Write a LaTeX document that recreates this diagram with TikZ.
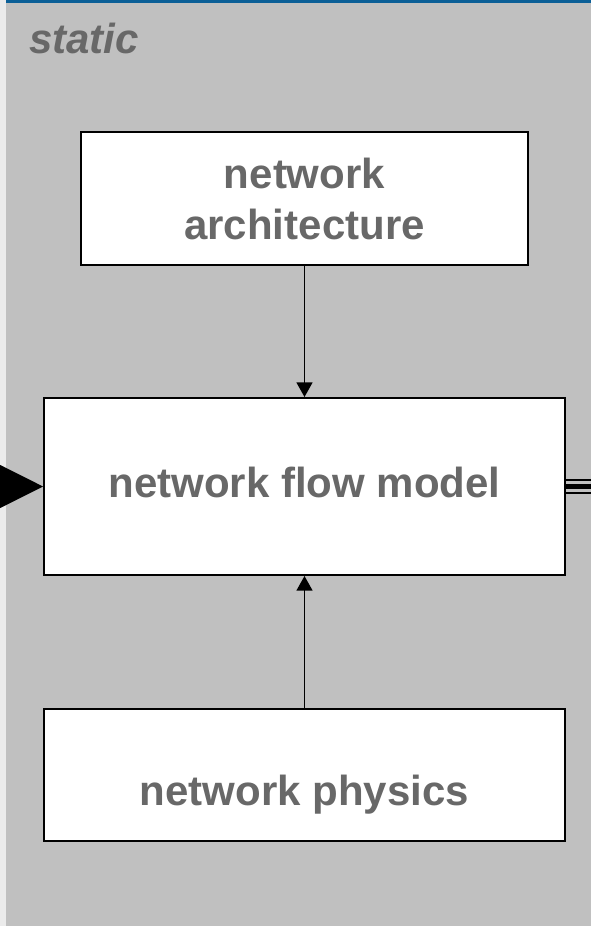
\documentclass[tikz,border=0pt]{standalone}
\usepackage{fontspec}
\setmainfont{Liberation Sans}
\usetikzlibrary{arrows.meta,positioning}
\definecolor{panel}{HTML}{C0C0C0}
\definecolor{strip}{HTML}{EBEBEB}
\definecolor{topbar}{HTML}{0B5F97}
\definecolor{label}{HTML}{686868}

\begin{document}
\begin{tikzpicture}[
  x=0.75pt, y=-0.75pt,
  line/.style={draw=black, line width=1.5pt},
  arrow/.style={-{Triangle[length=11pt,width=12pt]}, draw=black, line width=1.1pt},
  bigarrow/.style={-{Triangle[length=33pt,width=33pt]}, draw=black, line width=0.4pt},
  trunk/.style={draw=black, line width=3.75pt,
    preaction={draw=black, line width=11.25pt},
    preaction={draw=panel, line width=8.25pt}},
  box/.style={line, fill=white, align=center, inner sep=0pt, text=label,
    font=\fontsize{31.5}{38.25}\selectfont\bfseries},
  note/.style={text=label, inner sep=0pt, font=\fontsize{31.5}{38}\selectfont\bfseries\itshape}
]

\fill[strip] (0,0) rectangle (591,926);
\fill[panel] (6,0) rectangle (591,926);
\fill[topbar] (6,0) rectangle (591,3);
\useasboundingbox (0,0) rectangle (591,926);
\clip (0,0) rectangle (591,926);

\node[note, anchor=base west] (title) at (29,53) {static};

\node[box, minimum width=390.75pt, minimum height=132.75pt, text height=15.8pt, text depth=0pt] (flow) at (304.5,486.5) {network flow model};
\node[box, minimum width=335.25pt, minimum height=99.75pt, above=98.25pt of flow] (arch) {network\\architecture};
\node[box, minimum width=390.75pt, minimum height=99pt, text height=46pt, text depth=0pt, below=99pt of flow] (physics) {network physics};

\coordinate (feed) at (-10,486.5);
\coordinate (exit) at (600,486.5);

\draw[arrow] (arch) -- (flow);
\draw[arrow] (physics) -- (flow);
\draw[bigarrow] (feed) -- (flow.west);
\draw[trunk] (flow.east) -- (exit);

\end{tikzpicture}
\end{document}
